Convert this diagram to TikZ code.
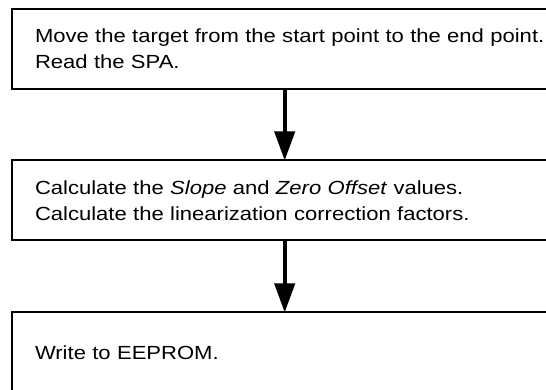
\documentclass[tikz,border=0pt]{standalone}
\usepackage{fontspec}
\setmainfont{Liberation Sans}[FakeStretch=1.16]
\usetikzlibrary{arrows.meta}

\tikzset{
  stepbox/.style={draw, line width=2pt, anchor=north west, outer sep=0pt,
    text width=520pt, inner xsep=23pt, inner ysep=0pt, minimum height=80pt,
    align=left, font=\fontsize{19}{26}\selectfont},
  flow/.style={line width=4pt, -{Triangle[length=29pt,width=20pt]}}
}

\begin{document}
\begin{tikzpicture}[x=1pt,y=1pt]
  % Page size (the boxes run past the right and bottom edges)
  \useasboundingbox (0,0) rectangle (546,390);

  % The three steps
  \node[stepbox] (move) at (12,381) {Move the target from the start point to the end point.\\Read the SPA.};
  \node[stepbox] (calc) at (12,229.5) {Calculate the \textit{Slope} and \textit{Zero Offset} values.\\Calculate the linearization correction factors.};
  \node[stepbox] (eeprom) at (12,77.5) {Write to EEPROM.};

  % Arrows between the steps
  \coordinate (col) at (284.7,0);
  \draw[flow] (move.south -| col) -- (calc.north -| col);
  \draw[flow] (calc.south -| col) -- (eeprom.north -| col);
\end{tikzpicture}
\end{document}
